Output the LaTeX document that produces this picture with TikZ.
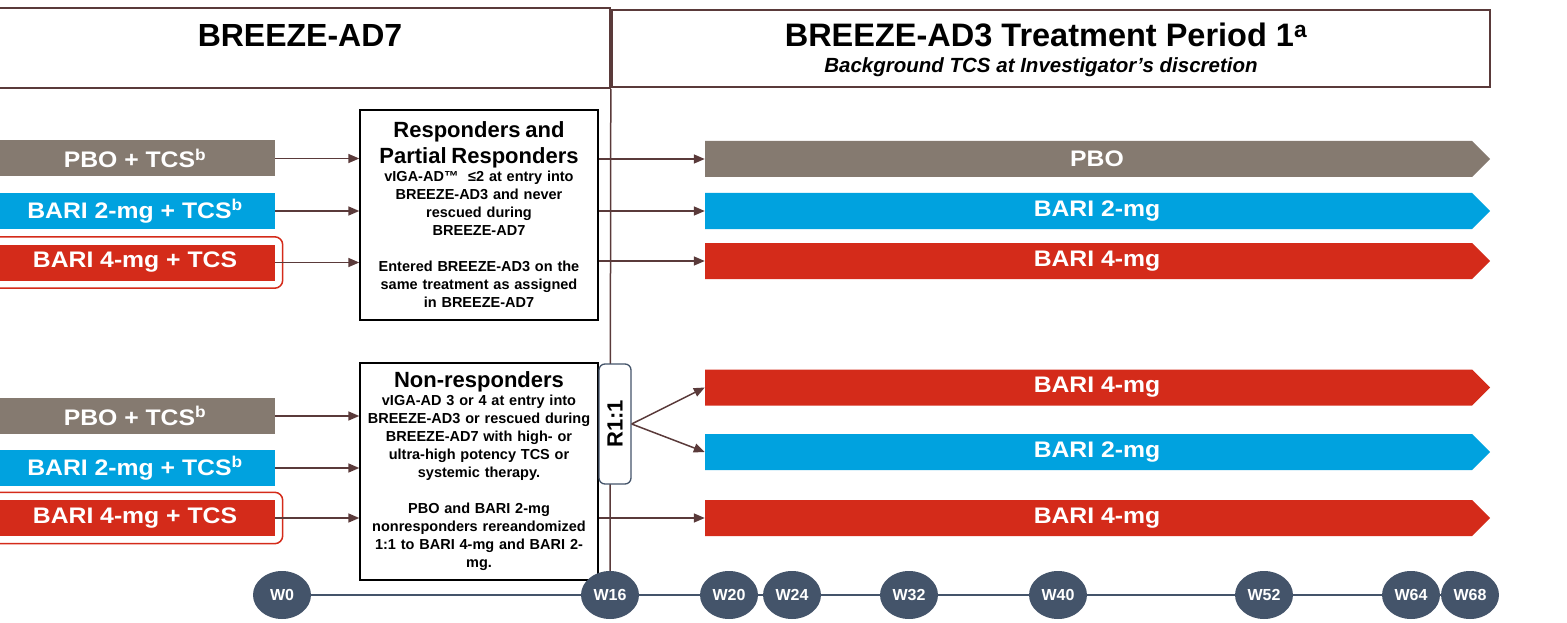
\documentclass[tikz,border=0pt]{standalone}
\usepackage{fontspec}
\setmainfont{Liberation Sans}
\newfontfamily\barfont[FakeStretch=1.1]{Liberation Sans}
\usetikzlibrary{arrows.meta,shapes.geometric,shapes.symbols,fit,backgrounds}

\definecolor{pbogray}{HTML}{857A70}
\definecolor{bariblue}{HTML}{00A2DF}
\definecolor{barired}{HTML}{D42B1A}
\definecolor{linebrown}{HTML}{5A3A3A}
\definecolor{slate}{HTML}{44546A}

\tikzset{
  hdr/.style={draw=linebrown,line width=1.6pt,inner sep=0pt},
  leftbar/.style={rectangle,minimum width=280pt,minimum height=36pt,inner sep=0pt,
    text=white,font=\barfont\bfseries\fontsize{22.5}{28}\selectfont},
  rightbar/.style={signal,signal to=east,minimum width=785pt,minimum height=36pt,
    inner sep=0pt,text=white,font=\barfont\bfseries\fontsize{22.5}{28}\selectfont,
    execute at begin node=\hspace*{17pt}},
  infobox/.style={draw=black,line width=1.4pt,text width=234pt,align=center,
    inner sep=2pt,font=\bfseries\fontsize{14.5}{18}\selectfont},
  rbox/.style={draw=slate,fill=white,line width=1.3pt,rounded corners=6pt,
    minimum width=120pt,minimum height=32pt,inner sep=0pt,
    font=\bfseries\fontsize{22}{26}\selectfont},
  week/.style={ellipse,fill=slate,minimum width=58pt,minimum height=48pt,inner sep=0pt,
    text=white,font=\bfseries\fontsize{16}{18}\selectfont},
  arr/.style={draw=linebrown,line width=1.5pt,-{Triangle[length=11pt,width=9pt]}},
  vline/.style={draw=linebrown,line width=1.5pt},
  tline/.style={draw=slate,line width=1.5pt}
}

\begin{document}
\begin{tikzpicture}[x=1pt,y=-1pt]
\path[use as bounding box,clip] (0,0) rectangle (1567,623);

% headers
\node[hdr,minimum width=620pt,minimum height=80pt] (ad7) at (300,48) {};
\node[font=\bfseries\fontsize{32}{38}\selectfont] (ad7t) at (300,35) {BREEZE-AD7};
\node[hdr,minimum width=878pt,minimum height=77pt] (ad3) at (1051,48.5) {};
\node[font=\bfseries\fontsize{32.5}{38}\selectfont] (ad3t) at (1046,35)
  {BREEZE-AD3 Treatment Period 1\textsuperscript{a}};
\node[font=\bfseries\itshape\fontsize{20.5}{24}\selectfont] (ad3s) at (1041,67)
  {Background TCS at Investigator’s discretion};

% BREEZE-AD7 arms
\node[leftbar,fill=pbogray] (lpa) at (135,158.5) {PBO + TCS\textsuperscript{b}};
\node[leftbar,fill=bariblue] (lb2a) at (135,211) {BARI 2-mg + TCS\textsuperscript{b}};
\node[leftbar,fill=barired] (lb4a) at (135,262.5) {BARI 4-mg + TCS};
\node[leftbar,fill=pbogray] (lpb) at (135,416) {PBO + TCS\textsuperscript{b}};
\node[leftbar,fill=bariblue] (lb2b) at (135,468) {BARI 2-mg + TCS\textsuperscript{b}};
\node[leftbar,fill=barired] (lb4b) at (135,518) {BARI 4-mg + TCS};
\node[fit=(lb4a),draw=barired,line width=1.5pt,rounded corners=8pt,inner sep=7.5pt] (oa) {};
\node[fit=(lb4b),draw=barired,line width=1.5pt,rounded corners=8pt,inner sep=7.5pt] (ob) {};

% responder boxes
\node[infobox,minimum height=210pt] (resp) at (479,215) {%
  {\fontsize{22}{26}\selectfont Responders and\\Partial Responders\par}
  vIGA-AD™\ \ ≤2 at entry into\\BREEZE-AD3 and never\\rescued during\\BREEZE-AD7\\[18pt]
  Entered BREEZE-AD3 on the\\same treatment as assigned\\in BREEZE-AD7};
\node[infobox,minimum height=217pt] (nonr) at (479,471.5) {%
  {\fontsize{22}{26}\selectfont Non-responders\par}
  vIGA-AD 3 or 4 at entry into\\BREEZE-AD3 or rescued during\\BREEZE-AD7 with high- or\\
  ultra-high potency TCS or\\systemic therapy.\\[18pt]
  PBO and BARI 2-mg\\nonresponders rereandomized\\1:1 to BARI 4-mg and BARI 2-\\mg.};

% re-randomization
\node[rbox,rotate=90] (r11) at (615,424) {R1:1};

% BREEZE-AD3 arms
\node[rightbar,fill=pbogray] (rpa) at (1088.5,159) {PBO};
\node[rightbar,fill=bariblue] (rb2a) at (1088.5,211) {BARI 2-mg};
\node[rightbar,fill=barired] (rb4a) at (1088.5,261) {BARI 4-mg};
\node[rightbar,fill=barired] (rb4b) at (1088.5,387.5) {BARI 4-mg};
\node[rightbar,fill=bariblue] (rb2b) at (1088.5,452) {BARI 2-mg};
\node[rightbar,fill=barired] (rb4c) at (1088.5,518) {BARI 4-mg};

% arrows
\foreach \n in {lpa,lb2a,lb4a} \draw[arr] (\n.east) -- (\n.east -| resp.west);
\foreach \n in {lpb,lb2b,lb4b} \draw[arr] (\n.east) -- (\n.east -| nonr.west);
\foreach \n in {rpa,rb2a,rb4a} \draw[arr] (resp.east |- \n.west) -- (\n.west);
\draw[arr] (nonr.east |- rb4c.west) -- (rb4c.west);
\draw[arr] (r11.south) -- (rb4b.west);
\draw[arr] (r11.south) -- (rb2b.west);

% timeline
\foreach \wk/\xx in {0/282,16/610,20/729,24/792,32/909,40/1058,52/1264,64/1411,68/1470}
  \node[week] (w\wk) at (\xx,595) {W\wk};

\begin{scope}[on background layer]
\draw[vline] (ad7.south east) -- (w16.north);
\foreach \a/\b in {0/16,16/20,20/24,24/32,32/40,40/52,52/64,64/68}
  \draw[tline] (w\a) -- (w\b);
\end{scope}
\end{tikzpicture}
\end{document}
